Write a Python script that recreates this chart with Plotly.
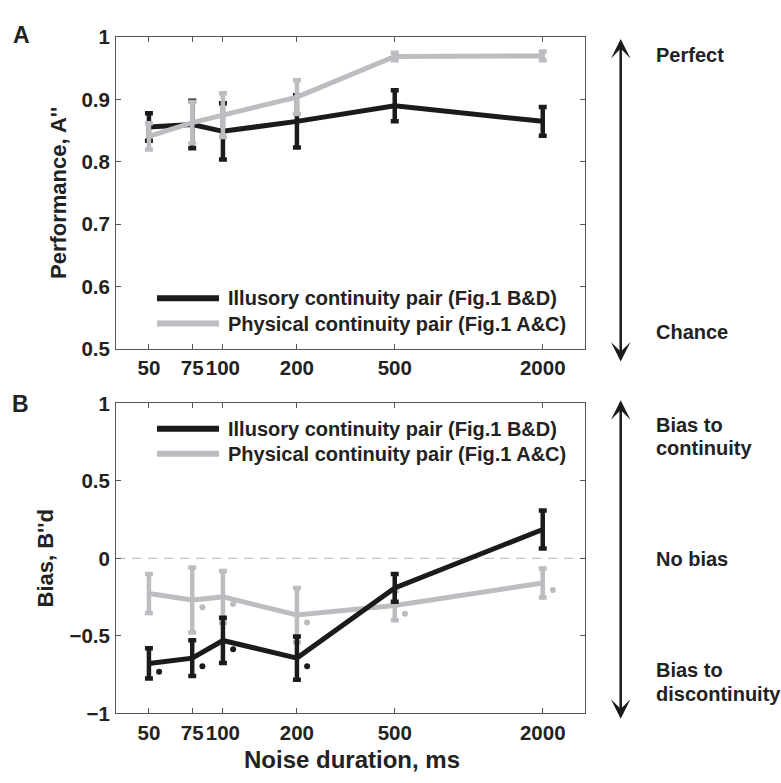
import plotly.graph_objects as go

# ---- data -------------------------------------------------------------
durations = [50, 75, 100, 200, 500, 2000]
duration_labels = ["50", "75", "100", "200", "500", "2000"]

series_names = ["Illusory continuity pair (Fig.1 B&D)",
                "Physical continuity pair (Fig.1 A&C)"]

# Panel A: performance A''
perf_illusory = [0.856, 0.860, 0.849, 0.865, 0.890, 0.865]
perf_illusory_err = [0.022, 0.038, 0.045, 0.042, 0.025, 0.023]
perf_physical = [0.841, 0.863, 0.875, 0.904, 0.969, 0.970]
perf_physical_err = [0.021, 0.033, 0.035, 0.027, 0.006, 0.007]

# Panel B: bias B''d
bias_illusory = [-0.677, -0.643, -0.529, -0.643, -0.190, 0.187]
bias_illusory_err = [0.097, 0.116, 0.146, 0.140, 0.090, 0.123]
bias_physical = [-0.226, -0.268, -0.248, -0.365, -0.304, -0.158]
bias_physical_err = [0.126, 0.210, 0.167, 0.175, 0.094, 0.094]

# significance markers placed just right of each condition
sig_x = [55, 82.5, 110, 220, 550, 2200]
sig_illusory = [-0.731, -0.696, -0.585, -0.696, None, None]
sig_physical = [None, -0.315, -0.294, -0.413, -0.356, -0.204]

perf_ticks = [0.5, 0.6, 0.7, 0.8, 0.9, 1.0]
perf_ticktext = ["0.5", "0.6", "0.7", "0.8", "0.9", "1"]
bias_ticks = [-1, -0.5, 0, 0.5, 1]
bias_ticktext = ["\u22121", "\u22120.5", "0", "0.5", "1"]

# ---- styling ----------------------------------------------------------
W, H = 781, 783
BLACK = "#1b1b1b"
GRAY = "#bcbdc1"
AXIS = "#555555"
TXT = "#222222"
FONT = "Liberation Sans"
colors = [BLACK, GRAY]


def px(x):
    return x / W


def py(y):
    return 1 - y / H


def bfont(size):
    return dict(family=FONT, size=size, color=TXT, weight="bold")


fig = go.Figure()


def add_series(y, err, color, xa, ya):
    fig.add_trace(go.Scatter(
        x=durations, y=y, mode="lines",
        line=dict(color=color, width=5),
        error_y=dict(type="data", array=err, visible=True,
                     color=color, thickness=4.5, width=4),
        xaxis=xa, yaxis=ya, showlegend=False, hoverinfo="skip"))


# Panel A: illusory underneath physical
add_series(perf_illusory, perf_illusory_err, BLACK, "x", "y")
add_series(perf_physical, perf_physical_err, GRAY, "x", "y")
# Panel B: physical underneath illusory
add_series(bias_physical, bias_physical_err, GRAY, "x2", "y2")
add_series(bias_illusory, bias_illusory_err, BLACK, "x2", "y2")

for ys, c in ((sig_illusory, BLACK), (sig_physical, GRAY)):
    fig.add_trace(go.Scatter(
        x=sig_x, y=ys, mode="markers",
        marker=dict(color=c, size=6, symbol="circle"),
        xaxis="x2", yaxis="y2", showlegend=False, hoverinfo="skip"))

x_dom = [px(116), px(585)]
x_range = [1.565, 3.473]
tickfont = bfont(20.5)

common_x = dict(type="log", range=x_range, domain=x_dom,
                tickmode="array", tickvals=durations, ticktext=duration_labels,
                tickangle=0, ticks="inside", ticklen=5, tickcolor=AXIS,
                showline=True, linecolor=AXIS, linewidth=1, mirror="ticks",
                showgrid=False, zeroline=False, tickfont=tickfont,
                ticklabelstandoff=1)
common_y = dict(ticks="inside", ticklen=5, tickcolor=AXIS,
                showline=True, linecolor=AXIS, linewidth=1, mirror="ticks",
                showgrid=False, zeroline=False, tickfont=tickfont,
                tickmode="array", ticklabelstandoff=1)

fig.update_layout(
    width=W, height=H,
    margin=dict(l=0, r=0, t=0, b=0),
    paper_bgcolor="white", plot_bgcolor="white",
    font=dict(family=FONT, color=TXT),
    xaxis=dict(common_x, anchor="y"),
    yaxis=dict(common_y, range=[0.5, 1.0], domain=[py(347), py(26)],
               tickvals=perf_ticks, ticktext=perf_ticktext, anchor="x"),
    xaxis2=dict(common_x, anchor="y2"),
    yaxis2=dict(common_y, range=[-1, 1], domain=[py(722.7), py(403.3)],
                tickvals=bias_ticks, ticktext=bias_ticktext, anchor="x2"),
    showlegend=False,
)

# dashed no-bias reference line
fig.add_shape(type="line", xref="x2 domain", x0=0, x1=1, yref="y2", y0=0, y1=0,
              line=dict(color="#c8c8c8", width=1.2, dash="10px,6px"), layer="below")

annotations = []

# legends (drawn per panel)
for rows in ((295, 321), (429.3, 455)):
    for name, c, yy in zip(series_names, colors, rows):
        fig.add_shape(type="line", xref="paper", yref="paper",
                      x0=px(157), x1=px(219), y0=py(yy), y1=py(yy),
                      line=dict(color=c, width=6))
        annotations.append(dict(x=px(226), y=py(yy), text=name,
                                xanchor="left", font=bfont(20)))

# axis titles and panel letters
annotations += [
    dict(x=px(58), y=py(186.5), text="Performance, A''", textangle=-90,
         font=bfont(22)),
    dict(x=px(45), y=py(563), text="Bias, B''d", textangle=-90,
         font=bfont(22)),
    dict(x=px(351.5), y=py(770), text="Noise duration, ms", font=bfont(24)),
    dict(x=px(21), y=py(23.5), text="A", font=bfont(23)),
    dict(x=px(20.5), y=py(404), text="B", font=bfont(23)),
]

# right-hand scale descriptions
side_text = [("Perfect", 44.3), ("Chance", 329.3),
             ("Bias to", 425), ("continuity", 449.3),
             ("No bias", 563.3),
             ("Bias to", 678.3), ("discontinuity", 702.7)]
for t, yy in side_text:
    annotations.append(dict(x=px(654), y=py(yy), text=t,
                            xanchor="left", font=bfont(20)))

for a in annotations:
    a.setdefault("xref", "paper")
    a.setdefault("yref", "paper")
    a.setdefault("xanchor", "center")
    a.setdefault("yanchor", "middle")
    a.setdefault("showarrow", False)

# double-headed arrows
for top, bottom in ((27.7, 351.7), (400, 720)):
    annotations.append(dict(
        x=px(620.7), y=py(top), xref="paper", yref="paper",
        ax=0, ay=bottom - top, axref="pixel", ayref="pixel",
        text="", showarrow=True, arrowside="end+start",
        arrowhead=3, startarrowhead=3, arrowsize=1.3, startarrowsize=1.3,
        arrowwidth=2.5, arrowcolor=BLACK, standoff=0, startstandoff=0))

fig.update_layout(annotations=annotations)

fig.write_html("out.html")
